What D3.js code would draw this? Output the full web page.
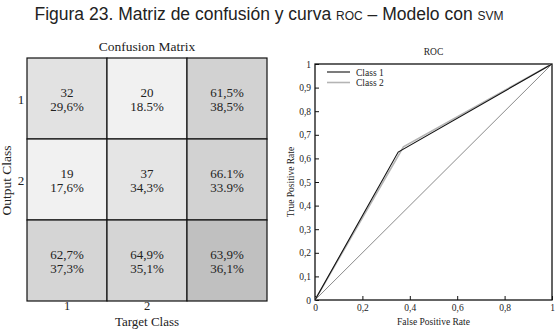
<!DOCTYPE html>
<html>
<head>
<meta charset="utf-8">
<script src="https://cdn.jsdelivr.net/npm/d3@7"></script>
<style>
  body { margin: 0; background: #fff; }
  svg { display: block; }
  .serif { font-family: "Liberation Serif", "DejaVu Serif", serif; fill: #222; }
</style>
</head>
<body>
<svg id="chart" width="556" height="331"></svg>
<script>
// Confusion matrix contents (rows = output class, cols = target class + summary)
const classes = ["1", "2"];
const cellCounts = [
  ["32", "20", "61,5%"],
  ["19", "37", "66.1%"],
  ["62,7%", "64,9%", "63,9%"]
];
const cellPercents = [
  ["29,6%", "18.5%", "38,5%"],
  ["17,6%", "34,3%", "33.9%"],
  ["37,3%", "35,1%", "36,1%"]
];
const cellShades = [
  ["#e2e2e2", "#f1f1f1", "#d2d2d2"],
  ["#f1f1f1", "#e5e5e5", "#d2d2d2"],
  ["#d5d5d5", "#d5d5d5", "#c0c0c0"]
];

// ROC curves (false positive rate, true positive rate)
const rocClass1 = [[0, 0], [0.351, 0.627], [1, 1]];
const rocClass2 = [[0, 0], [0.373, 0.649], [1, 1]];
const rocChance = [[0, 0], [1, 1]];
const xTicks = [0, 0.2, 0.4, 0.6, 0.8, 1];
const yTicks = [0, 0.1, 0.2, 0.3, 0.4, 0.5, 0.6, 0.7, 0.8, 0.9, 1];

const svg = d3.select("#chart");
const comma = v => String(v).replace(".", ",");

// Figure caption with small-caps acronyms
const cap = svg.append("text")
  .attr("x", 269).attr("y", 20)
  .attr("text-anchor", "middle")
  .style("font-family", "'Liberation Sans', Arial, sans-serif")
  .style("font-size", "17.5px")
  .style("fill", "#222");
cap.append("tspan").text("Figura 23. Matriz de confusión y curva ");
cap.append("tspan").style("font-size", "12px").text("ROC");
cap.append("tspan").text(" – Modelo con ");
cap.append("tspan").style("font-size", "12px").text("SVM");

// ---------- Confusion matrix ----------
const cm = { left: 27, top: 58, right: 267, bottom: 301 };
const idx = [0, 1, 2];
const cx = d3.scaleBand().domain(idx).range([cm.left, cm.right]);
const cy = d3.scaleBand().domain(idx).range([cm.top, cm.bottom]);

const gCM = svg.append("g");
const cells = idx.flatMap(r => idx.map(c => ({ r, c })));
gCM.selectAll("rect.cell").data(cells).join("rect")
  .attr("class", "cell")
  .attr("x", d => cx(d.c)).attr("y", d => cy(d.r))
  .attr("width", cx.bandwidth()).attr("height", cy.bandwidth())
  .attr("fill", d => cellShades[d.r][d.c])
  .attr("stroke", "#111").attr("stroke-width", 1.2);

gCM.selectAll("text.count").data(cells).join("text")
  .attr("class", "serif count")
  .attr("x", d => cx(d.c) + cx.bandwidth() / 2)
  .attr("y", d => cy(d.r) + cy.bandwidth() / 2 - 2)
  .attr("text-anchor", "middle")
  .style("font-size", "13px")
  .text(d => cellCounts[d.r][d.c]);
gCM.selectAll("text.pct").data(cells).join("text")
  .attr("class", "serif pct")
  .attr("x", d => cx(d.c) + cx.bandwidth() / 2)
  .attr("y", d => cy(d.r) + cy.bandwidth() / 2 + 12)
  .attr("text-anchor", "middle")
  .style("font-size", "13px")
  .text(d => cellPercents[d.r][d.c]);

gCM.append("text").attr("class", "serif")
  .attr("x", (cm.left + cm.right) / 2).attr("y", 51)
  .attr("text-anchor", "middle").style("font-size", "13.5px")
  .text("Confusion Matrix");

gCM.selectAll("text.rowlab").data(classes).join("text")
  .attr("class", "serif rowlab")
  .attr("x", 21).attr("y", (d, i) => cy(i) + cy.bandwidth() / 2 + 5)
  .attr("text-anchor", "middle").style("font-size", "13px")
  .text(d => d);
gCM.selectAll("text.collab").data(classes).join("text")
  .attr("class", "serif collab")
  .attr("x", (d, i) => cx(i) + cx.bandwidth() / 2).attr("y", 310)
  .attr("text-anchor", "middle").style("font-size", "12.5px")
  .text(d => d);

gCM.append("text").attr("class", "serif")
  .attr("transform", `translate(11,${cy(1) + cy.bandwidth() / 2 + 1}) rotate(-90)`)
  .attr("text-anchor", "middle").style("font-size", "13.5px")
  .text("Output Class");
gCM.append("text").attr("class", "serif")
  .attr("x", (cm.left + cm.right) / 2).attr("y", 326)
  .attr("text-anchor", "middle").style("font-size", "13px")
  .text("Target Class");

// ---------- ROC plot ----------
const roc = { left: 315, top: 64, right: 552, bottom: 300 };
const x = d3.scaleLinear().domain([0, 1]).range([roc.left, roc.right]);
const y = d3.scaleLinear().domain([0, 1]).range([roc.bottom, roc.top]);
const gR = svg.append("g");

const xAxis = gR.append("g").attr("transform", `translate(0,${roc.bottom})`)
  .call(d3.axisBottom(x).tickValues(xTicks).tickSizeInner(-4).tickSizeOuter(0)
    .tickPadding(4).tickFormat(comma));
const yAxis = gR.append("g").attr("transform", `translate(${roc.left},0)`)
  .call(d3.axisLeft(y).tickValues(yTicks).tickSizeInner(-4).tickSizeOuter(0)
    .tickPadding(4).tickFormat(comma));
[xAxis, yAxis].forEach(a => {
  a.select(".domain").remove();
  a.selectAll("line").attr("stroke", "#111");
  a.selectAll("text").attr("class", "serif")
    .style("font-size", "9.5px").attr("font-family", null);
});

gR.append("rect")
  .attr("x", roc.left).attr("y", roc.top)
  .attr("width", roc.right - roc.left).attr("height", roc.bottom - roc.top)
  .attr("fill", "none").attr("stroke", "#111").attr("stroke-width", 1.3);

const line = d3.line().x(d => x(d[0])).y(d => y(d[1]));
gR.append("path").datum(rocChance).attr("d", line)
  .attr("fill", "none").attr("stroke", "#8a8a8a").attr("stroke-width", 1);
gR.append("path").datum(rocClass2).attr("d", line)
  .attr("fill", "none").attr("stroke", "#b4b4b4").attr("stroke-width", 1.6);
gR.append("path").datum(rocClass1).attr("d", line)
  .attr("fill", "none").attr("stroke", "#111").attr("stroke-width", 1.1);

gR.append("text").attr("class", "serif")
  .attr("x", (roc.left + roc.right) / 2).attr("y", 55)
  .attr("text-anchor", "middle").style("font-size", "9.5px").text("ROC");
gR.append("text").attr("class", "serif")
  .attr("x", (roc.left + roc.right) / 2).attr("y", 325)
  .attr("text-anchor", "middle").style("font-size", "9.5px").text("False Positive Rate");
gR.append("text").attr("class", "serif")
  .attr("transform", `translate(294,${(roc.top + roc.bottom) / 2}) rotate(-90)`)
  .attr("text-anchor", "middle").style("font-size", "9.5px").text("True Positive Rate");

// Legend
const legend = [
  { name: "Class 1", color: "#111", width: 1.1 },
  { name: "Class 2", color: "#b4b4b4", width: 1.6 }
];
const lg = gR.selectAll("g.legend").data(legend).join("g")
  .attr("transform", (d, i) => `translate(327,${72 + i * 10.5})`);
lg.append("line").attr("x1", 0).attr("x2", 23)
  .attr("stroke", d => d.color).attr("stroke-width", d => d.width);
lg.append("text").attr("class", "serif").attr("x", 29).attr("y", 3.5)
  .style("font-size", "9.5px").text(d => d.name);
</script>
</body>
</html>
